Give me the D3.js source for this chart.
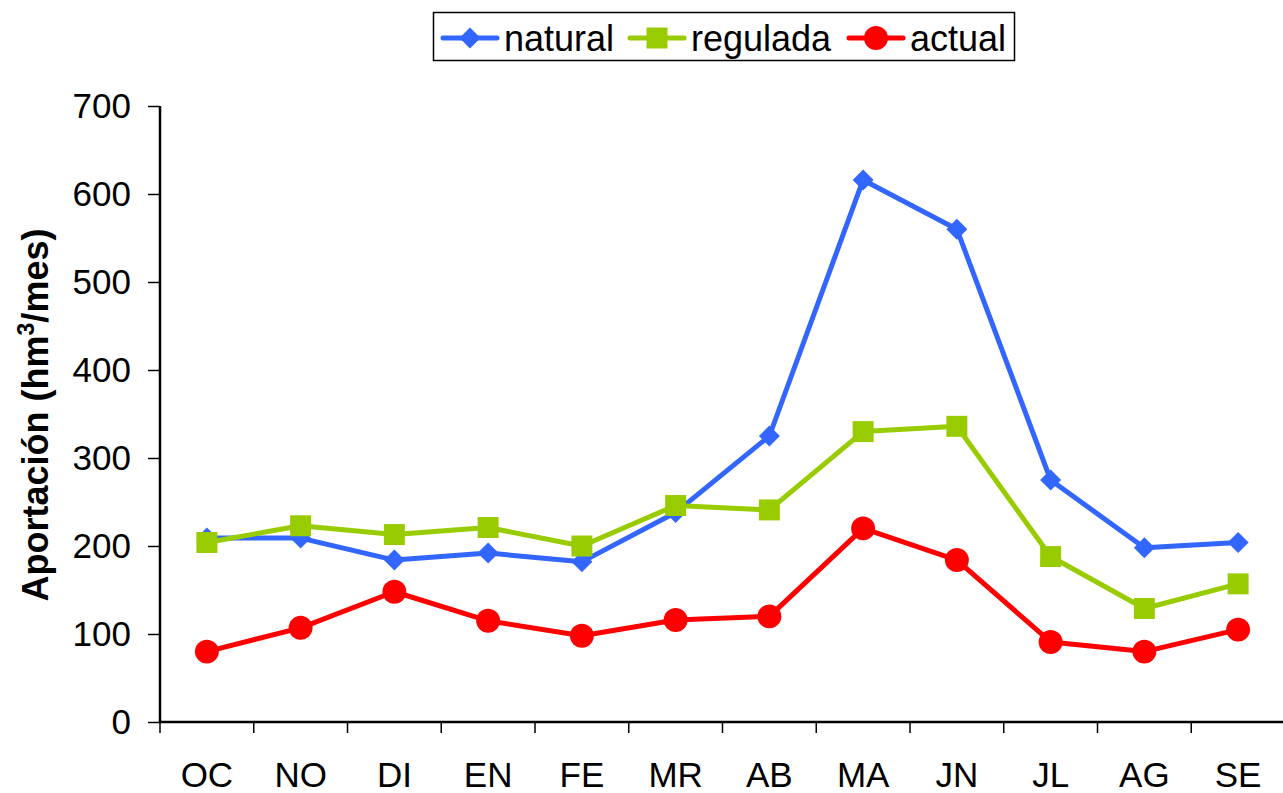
<!DOCTYPE html>
<html>
<head>
<meta charset="utf-8">
<script src="https://cdnjs.cloudflare.com/ajax/libs/d3/7.8.5/d3.min.js"></script>
<style>
  body { margin: 0; background: #fff; }
  svg text { font-family: "Liberation Sans", Arial, sans-serif; }
</style>
</head>
<body>
<svg id="chart" width="1283" height="793"></svg>
<script>
'use strict';

var months = ['OC', 'NO', 'DI', 'EN', 'FE', 'MR', 'AB', 'MA', 'JN', 'JL', 'AG', 'SE'];
var natural = [209, 209, 184, 192, 182, 238, 325, 616, 560, 275, 198, 204];
var regulada = [204, 223, 213, 221, 200, 246, 241, 330, 336, 188, 129, 157];
var actual = [80, 107, 148, 115, 98, 116, 120, 220, 184, 91, 80, 105];
var yTicks = [0, 100, 200, 300, 400, 500, 600, 700];

var series = [
    { name: 'natural', values: natural, color: '#3366FF', symbol: d3.symbolDiamond2, size: 280 },
    { name: 'regulada', values: regulada, color: '#99CC00', symbol: d3.symbolSquare2, size: 560 },
    { name: 'actual', values: actual, color: '#FF0000', symbol: d3.symbolCircle, size: 450 }
];

var svg = d3.select('#chart');

var x = d3.scaleBand().domain(months).range([160, 1285]);
var y = d3.scaleLinear().domain([0, 700]).range([722, 106]);

// y axis
var yAxis = svg.append('g')
    .attr('transform', 'translate(160,0)')
    .call(d3.axisLeft(y).tickValues(yTicks).tickSize(12).tickPadding(17));
yAxis.select('.domain').attr('stroke', '#000').attr('stroke-width', 2.5).attr('d', 'M0,106V722');
yAxis.selectAll('.tick line').attr('stroke', '#000').attr('stroke-width', 1.5);
yAxis.selectAll('.tick text').attr('font-size', 35).attr('fill', '#000');

// x axis
var xAxis = svg.append('g')
    .attr('transform', 'translate(0,722)');
xAxis.append('line')
    .attr('x1', 160).attr('x2', 1285)
    .attr('stroke', '#000').attr('stroke-width', 2.5);
xAxis.selectAll('.xtick')
    .data(months)
    .enter().append('line')
    .attr('x1', function(d) { return x(d); })
    .attr('x2', function(d) { return x(d); })
    .attr('y1', 0).attr('y2', 11)
    .attr('stroke', '#000').attr('stroke-width', 1.5);
xAxis.selectAll('.xlabel')
    .data(months)
    .enter().append('text')
    .attr('x', function(d) { return x(d) + x.bandwidth() / 2; })
    .attr('y', 65)
    .attr('text-anchor', 'middle')
    .attr('font-size', 35)
    .text(function(d) { return d; });

// axis title
var title = svg.append('text')
    .attr('transform', 'translate(48,415) rotate(-90)')
    .attr('text-anchor', 'middle')
    .attr('font-size', 36)
    .attr('font-weight', 'bold');
title.append('tspan').text('Aportación (hm');
title.append('tspan').attr('font-size', 23).attr('dy', -14).text('3');
title.append('tspan').attr('dy', 14).text('/mes)');

var line = d3.line()
    .x(function(d, i) { return x(months[i]) + x.bandwidth() / 2; })
    .y(function(d) { return y(d); });

series.forEach(function(s) {
    var g = svg.append('g');
    g.append('path')
        .attr('d', line(s.values))
        .attr('fill', 'none')
        .attr('stroke', s.color)
        .attr('stroke-width', 5)
        .attr('stroke-linejoin', 'round');
    g.selectAll('path.marker')
        .data(s.values)
        .enter().append('path')
        .attr('class', 'marker')
        .attr('d', d3.symbol().type(s.symbol).size(s.size))
        .attr('transform', function(d, i) {
            return 'translate(' + (x(months[i]) + x.bandwidth() / 2) + ',' + y(d) + ')';
        })
        .attr('fill', s.color);
});

// legend
var legend = svg.append('g');
legend.append('rect')
    .attr('x', 433.5).attr('y', 12.5)
    .attr('width', 581).attr('height', 48)
    .attr('fill', '#fff').attr('stroke', '#000').attr('stroke-width', 1.5);
var legendX = [443, 630, 849];
series.forEach(function(s, i) {
    var lx = legendX[i];
    legend.append('line')
        .attr('x1', lx).attr('x2', lx + 54)
        .attr('y1', 38).attr('y2', 38)
        .attr('stroke', s.color).attr('stroke-width', 5).attr('stroke-linecap', 'round');
    legend.append('path')
        .attr('d', d3.symbol().type(s.symbol).size(s.size))
        .attr('transform', 'translate(' + (lx + 27) + ',38)')
        .attr('fill', s.color);
    legend.append('text')
        .attr('x', lx + 61).attr('y', 51)
        .attr('font-size', 36)
        .text(s.name);
});
</script>
</body>
</html>
